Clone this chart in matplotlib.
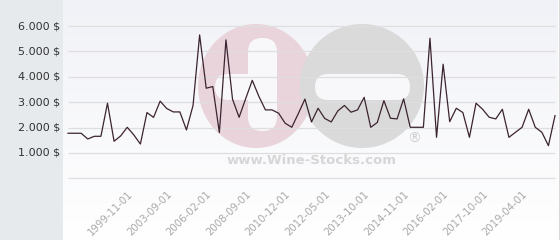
import numpy as np
import matplotlib
matplotlib.use("Agg")
import matplotlib.pyplot as plt
import matplotlib.transforms as mtransforms
from matplotlib.patches import Ellipse, FancyBboxPatch, Rectangle

# ---- data ----
prices = [1775, 1775, 1775, 1550, 1655, 1655, 2960, 1460, 1670, 2010,
          1710, 1350, 2590, 2400, 3040, 2750, 2615, 2615, 1905, 2870,
          5650, 3550, 3615, 1800, 5455, 3115, 2405, 3140, 3860, 3230,
          2695, 2695, 2565, 2170, 2010, 2550, 3120, 2220, 2760, 2360,
          2220, 2655, 2870, 2605, 2695, 3190, 2010, 2200, 3060, 2365,
          2340, 3130, 2010, 2010, 2010, 5520, 1615, 4495, 2230, 2760,
          2590, 1615, 2960, 2720, 2405, 2340, 2720, 1615, 1815, 2010,
          2720, 2010, 1815, 1285, 2470]
tick_labels = ["1999-11-01", "2003-09-01", "2006-02-01", "2008-09-01",
               "2010-12-01", "2012-05-01", "2013-10-01", "2014-11-01",
               "2016-02-01", "2017-10-01", "2019-04-01"]
y_ticks = [1000, 2000, 3000, 4000, 5000, 6000]
grid_values = [0, 1000, 2000, 3000, 4000, 5000, 6000]
first_tick = 9
tick_step = 6

W, H = 560, 240
fig = plt.figure(figsize=(W / 100, H / 100), dpi=100)
fig.patch.set_facecolor("white")

# left grey panel (drawn below everything)
fig.patches.append(Rectangle((0, 0), 63 / W, 1, transform=fig.transFigure,
                             facecolor="#e6eaed", edgecolor="none", zorder=-5))

ax = fig.add_axes([63 / W, 0, 495 / W, 1])
for s in ax.spines.values():
    s.set_visible(False)
ax.set_xticks([])
ax.set_yticks([])

n = len(prices)
px_per_idx = 487 / (n - 1)
px_per_val = 25.38 / 1000
xlim = (-5 / px_per_idx, (n - 1) + 3 / px_per_idx)
ylim = (-(240 - 178.3) / px_per_val, 178.3 / px_per_val)

# background gradient
grad = np.linspace(0, 1, 256).reshape(-1, 1)
top = np.array([241, 242, 247]) / 255
bot = np.array([255, 255, 255]) / 255
img = top[None, None, :] * (1 - grad[:, :, None]) + bot[None, None, :] * grad[:, :, None]
ax.imshow(img, extent=[0, 1, 0, 1], transform=ax.transAxes, aspect="auto",
          zorder=0, origin="upper")


def fx(px):
    return px / W


def fy(py):
    return 1 - py / H


wm_tr = fig.transFigure
ax.add_patch(Ellipse((fx(256), fy(86)), 2 * 58 / W, 2 * 62 / H, transform=wm_tr,
                     facecolor="#ead4db", edgecolor="none", zorder=1))
ax.add_patch(Ellipse((fx(362), fy(86)), 2 * 62 / W, 2 * 62 / H, transform=wm_tr,
                     facecolor="#dadada", edgecolor="none", zorder=1))


def rbar(x0, y0, x1, y1, r):
    ax.add_patch(FancyBboxPatch((fx(x0), fy(y1)), fx(x1) - fx(x0), fy(y0) - fy(y1),
                                boxstyle="round,pad=0,rounding_size=%f" % (r / W),
                                mutation_aspect=W / H,
                                transform=wm_tr, facecolor="#f8f8fa",
                                edgecolor="none", zorder=1.1))


rbar(248, 38, 277, 131, 14)
rbar(215, 74, 277, 100, 13)
rbar(315, 74, 410, 100, 13)
fig.text(fx(312), fy(160), "www.Wine-Stocks.com", ha="center", va="center",
         fontsize=9.5, fontweight="bold", color="#d6d6d6", zorder=1)
fig.text(fx(414), fy(139), "®", ha="center", va="center",
         fontsize=10, color="#d0d0d0", zorder=1)

# grid
ax.hlines(grid_values, 0, n - 1, colors="#dedede", linewidth=0.9, zorder=2)

# line
ax.plot(np.arange(n), prices, color="#3b2330", linewidth=0.9, zorder=3)

ax.set_xlim(*xlim)
ax.set_ylim(*ylim)

# y labels
ytr = mtransforms.blended_transform_factory(fig.transFigure, ax.transData)
for v in y_ticks:
    ax.text(fx(60), v, "{:,}".format(v).replace(",", ".") + " $",
            transform=ytr, ha="right", va="center", fontsize=8,
            color="#333333", clip_on=False, zorder=5)

# x labels
for i, lab in enumerate(tick_labels):
    idx = first_tick + i * tick_step
    ax.text(idx, -430, lab, rotation=45, rotation_mode="anchor",
            ha="right", va="top", fontsize=7.3, color="#a8a8a8", clip_on=False)

# right border
fig.add_artist(plt.Line2D([fx(558.5), fx(558.5)], [0, 1], transform=fig.transFigure,
                          color="#d8d8d8", linewidth=0.8))

fig.savefig("out.png", dpi=100)
